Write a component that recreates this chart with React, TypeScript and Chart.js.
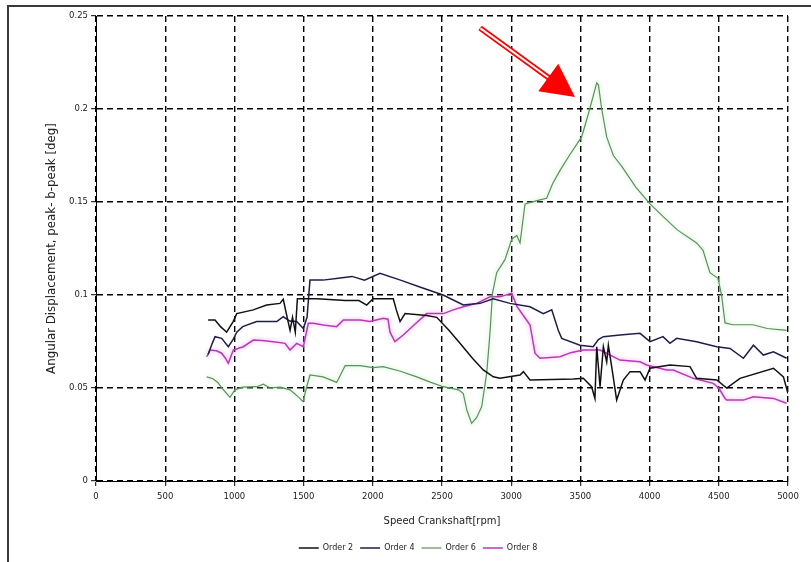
import React, { useEffect, useRef } from "react";
import { Chart, registerables } from "chart.js";

Chart.register(...registerables);

// Axis ticks
const rpmTicks = [0, 500, 1000, 1500, 2000, 2500, 3000, 3500, 4000, 4500, 5000];
const valueTicks = [0, 0.05, 0.1, 0.15, 0.2, 0.25];

// Order 2
const order2Rpm = [
  810, 860, 900, 944, 991, 1017, 1136, 1233, 1329, 1353, 1378, 1402, 1420, 1440, 1455,
  1600, 1800, 1900, 1956, 2002, 2148, 2170, 2197, 2233, 2389, 2462, 2550, 2630, 2720,
  2798, 2871, 2919, 3064, 3088, 3136, 3450, 3521, 3581, 3605, 3618, 3642, 3666, 3690,
  3702, 3726, 3762, 3810, 3859, 3931, 3967, 4003, 4147, 4292, 4340, 4485, 4557, 4653,
  4895, 4967, 5000,
];
const order2Val = [
  0.0866, 0.0866, 0.083, 0.08, 0.0857, 0.09, 0.092, 0.0946, 0.0955, 0.0977, 0.089, 0.081,
  0.088, 0.08, 0.098, 0.098, 0.097, 0.097, 0.0946, 0.098, 0.098, 0.092, 0.0857, 0.09,
  0.089, 0.088, 0.081, 0.074, 0.066, 0.0597, 0.056, 0.0552, 0.057, 0.0588, 0.0543,
  0.0548, 0.0552, 0.0507, 0.0444, 0.0722, 0.0507, 0.0722, 0.064, 0.073, 0.0615, 0.0435,
  0.0543, 0.0588, 0.0588, 0.0543, 0.0606, 0.0624, 0.0615, 0.0552, 0.0543, 0.05, 0.0552,
  0.0606, 0.056, 0.047,
];

// Order 4
const order4Rpm = [
  810, 840, 860, 908, 956, 990, 1017, 1060, 1161, 1306, 1353, 1400, 1450, 1498, 1525,
  1546, 1640, 1750, 1850, 1940, 2052, 2200, 2350, 2508, 2654, 2775, 2870, 2991, 3136,
  3232, 3293, 3340, 3365, 3497, 3592, 3630, 3666, 3786, 3931, 4003, 4097, 4147, 4196,
  4340, 4485, 4581, 4678, 4750, 4822, 4895, 4990,
];
const order4Val = [
  0.068, 0.074, 0.0776, 0.0767, 0.0722, 0.076, 0.08, 0.083, 0.0857, 0.0857, 0.0883,
  0.086, 0.0857, 0.082, 0.088, 0.108, 0.108, 0.109, 0.11, 0.108, 0.1117, 0.108, 0.104,
  0.1, 0.0946, 0.0955, 0.098, 0.0955, 0.0937, 0.09, 0.092, 0.081, 0.0767, 0.073, 0.0722,
  0.076, 0.0776, 0.0785, 0.0794, 0.0749, 0.0776, 0.074, 0.0767, 0.0749, 0.0722, 0.0713,
  0.066, 0.073, 0.0677, 0.0695, 0.066,
];

// Order 6
const order6Rpm = [
  800, 845, 880, 910, 968, 1004, 1060, 1161, 1210, 1257, 1330, 1402, 1450, 1496, 1520,
  1546, 1641, 1739, 1800, 1908, 2002, 2075, 2200, 2317, 2420, 2508, 2620, 2654, 2680,
  2714, 2750, 2787, 2823, 2847, 2865, 2895, 2955, 3004, 3040, 3064, 3100, 3200, 3256,
  3300, 3353, 3420, 3509, 3560, 3618, 3630, 3654, 3690, 3738, 3800, 3900, 4003, 4100,
  4200, 4340, 4386, 4436, 4494, 4520, 4545, 4600, 4747, 4850, 4990,
];
const order6Val = [
  0.056, 0.055, 0.053, 0.05, 0.045, 0.049, 0.0505, 0.0507, 0.052, 0.05, 0.0505, 0.049,
  0.046, 0.0427, 0.05, 0.057, 0.056, 0.053, 0.062, 0.062, 0.061, 0.0615, 0.059, 0.056,
  0.053, 0.0507, 0.049, 0.047, 0.038, 0.031, 0.034, 0.04, 0.058, 0.08, 0.101, 0.112,
  0.119, 0.13, 0.132, 0.128, 0.149, 0.151, 0.152, 0.16, 0.167, 0.175, 0.185, 0.198,
  0.214, 0.213, 0.2, 0.185, 0.175, 0.169, 0.158, 0.149, 0.142, 0.135, 0.128, 0.124,
  0.112, 0.109, 0.1, 0.085, 0.084, 0.084, 0.082, 0.081,
];

// Order 8
const order8Rpm = [
  800, 824, 870, 908, 935, 956, 992, 1064, 1137, 1200, 1281, 1366, 1402, 1450, 1498,
  1534, 1570, 1642, 1739, 1787, 1908, 1980, 2076, 2110, 2124, 2160, 2220, 2300, 2389,
  2510, 2582, 2654, 2751, 2847, 2919, 3004, 3040, 3088, 3136, 3172, 3208, 3353, 3430,
  3521, 3642, 3786, 3931, 3979, 4123, 4171, 4316, 4460, 4500, 4545, 4557, 4678, 4750,
  4895, 4990,
];
const order8Val = [
  0.0668, 0.0704, 0.07, 0.0687, 0.066, 0.0633, 0.0704, 0.0722, 0.0758, 0.0755, 0.0749,
  0.074, 0.0704, 0.074, 0.0722, 0.0848, 0.0848, 0.0839, 0.083, 0.0866, 0.0866, 0.0857,
  0.0875, 0.087, 0.08, 0.0749, 0.0785, 0.084, 0.09, 0.09, 0.092, 0.0937, 0.0955, 0.099,
  0.099, 0.101, 0.094, 0.089, 0.0839, 0.0687, 0.066, 0.0668, 0.069, 0.0704, 0.0704,
  0.065, 0.0641, 0.0624, 0.0597, 0.0597, 0.0552, 0.0525, 0.05, 0.0444, 0.0435, 0.0435,
  0.0453, 0.0444, 0.0418,
];

// Callout arrow pointing at the Order 6 resonance peak (data coordinates)
const arrowTail = { rpm: 2775, value: 0.2435 };
const arrowTip = { rpm: 3461, value: 0.2065 };

const FONT = "'DejaVu Sans', 'Liberation Sans', sans-serif";
const TEXT = "#222";

const toPoints = (xs: number[], ys: number[]) => xs.map((x, i) => ({ x, y: ys[i] }));

// Soft glow around the coloured traces
const haloPlugin = {
  id: "lineHalo",
  beforeDatasetDraw(chart: any, args: any) {
    const ds = chart.data.datasets[args.index];
    if (!ds.halo) return;
    chart.ctx.save();
    chart.ctx.shadowColor = ds.halo;
    chart.ctx.shadowBlur = 4;
  },
  afterDatasetDraw(chart: any, args: any) {
    const ds = chart.data.datasets[args.index];
    if (ds.halo) chart.ctx.restore();
  },
};

// Nudge the legend row a little to the right of the canvas centre
const legendShiftPlugin = {
  id: "legendShift",
  afterLayout(chart: any) {
    const lg = chart.legend;
    if (lg) {
      lg.left += 24;
      lg.right += 24;
    }
  },
};

const arrowPlugin = {
  id: "peakArrow",
  afterDraw(chart: any) {
    const { ctx } = chart;
    const xs = chart.scales.x;
    const ys = chart.scales.y;
    const x0 = xs.getPixelForValue(arrowTail.rpm);
    const y0 = ys.getPixelForValue(arrowTail.value);
    const x1 = xs.getPixelForValue(arrowTip.rpm);
    const y1 = ys.getPixelForValue(arrowTip.value);
    const ang = Math.atan2(y1 - y0, x1 - x0);
    const c = Math.cos(ang);
    const s = Math.sin(ang);
    const headLen = 33;
    const headHalf = 17;
    const bx = x1 - c * headLen;
    const by = y1 - s * headLen;
    ctx.save();
    ctx.lineCap = "butt";
    ctx.strokeStyle = "#ff0000";
    ctx.lineWidth = 5.5;
    ctx.beginPath();
    ctx.moveTo(x0, y0);
    ctx.lineTo(bx + c * 3, by + s * 3);
    ctx.stroke();
    ctx.strokeStyle = "#ffffff";
    ctx.lineWidth = 2;
    ctx.beginPath();
    ctx.moveTo(x0 + c * 0.5, y0 + s * 0.5);
    ctx.lineTo(bx + c * 3, by + s * 3);
    ctx.stroke();
    ctx.fillStyle = "#ff0000";
    ctx.beginPath();
    ctx.moveTo(x1, y1);
    ctx.lineTo(bx + s * headHalf, by - c * headHalf);
    ctx.lineTo(bx - s * headHalf, by + c * headHalf);
    ctx.closePath();
    ctx.fill();
    ctx.restore();
  },
};

export default function App() {
  const canvasRef = useRef<HTMLCanvasElement | null>(null);

  useEffect(() => {
    const canvas = canvasRef.current;
    if (!canvas) return;
    const gridCommon = {
      color: "#000",
      lineWidth: 1.4,
      drawTicks: true,
      tickLength: 5,
      tickColor: "#000",
      tickWidth: 1,
      tickBorderDash: [],
    };
    const chart = new Chart(canvas, {
      type: "line",
      data: {
        datasets: [
          {
            label: "Order 2",
            data: toPoints(order2Rpm, order2Val),
            borderColor: "#111111",
            backgroundColor: "#111111",
            borderWidth: 1.5,
          },
          {
            label: "Order 4",
            data: toPoints(order4Rpm, order4Val),
            borderColor: "#1e1e48",
            backgroundColor: "#1e1e48",
            borderWidth: 1.5,
          },
          {
            label: "Order 6",
            data: toPoints(order6Rpm, order6Val),
            borderColor: "#5b915b",
            backgroundColor: "#5b915b",
            borderWidth: 1.2,
            halo: "rgba(170,230,170,0.9)",
          },
          {
            label: "Order 8",
            data: toPoints(order8Rpm, order8Val),
            borderColor: "#b43cb4",
            backgroundColor: "#b43cb4",
            borderWidth: 1.5,
            halo: "rgba(245,150,245,0.95)",
          },
        ] as any,
      },
      options: {
        animation: false,
        responsive: false,
        maintainAspectRatio: false,
        elements: {
          point: { radius: 0 },
          line: { tension: 0 },
        },
        layout: { padding: { left: 0, right: 23, top: 16, bottom: 0 } },
        plugins: {
          tooltip: { enabled: false },
          legend: {
            position: "bottom",
            labels: {
              usePointStyle: true,
              pointStyle: "line",
              pointStyleWidth: 20,
              padding: 7,
              color: TEXT,
              font: { family: FONT, size: 8 },
            },
          },
        },
        scales: {
          x: {
            type: "linear",
            min: 0,
            max: 5000,
            afterFit: (s: any) => {
              s.height = 56;
            },
            afterBuildTicks: (s: any) => {
              s.ticks = rpmTicks.map((v) => ({ value: v }));
            },
            ticks: {
              padding: 6,
              color: TEXT,
              font: { family: FONT, size: 8.5 },
              callback: (v: any) => String(v),
              maxRotation: 0,
            },
            grid: gridCommon,
            border: { display: true, color: "#000", width: 1, dash: [6, 4] },
            title: {
              display: true,
              text: "Speed Crankshaft[rpm]",
              color: TEXT,
              font: { family: FONT, size: 10 },
              padding: { top: 0, bottom: 10 },
            },
          },
          y: {
            type: "linear",
            min: 0,
            max: 0.25,
            afterFit: (s: any) => {
              s.width = 96;
            },
            afterBuildTicks: (s: any) => {
              s.ticks = valueTicks.map((v) => ({ value: v }));
            },
            ticks: {
              padding: 3,
              color: TEXT,
              font: { family: FONT, size: 8.5 },
              callback: (v: any) => String(Number(Number(v).toFixed(2))),
            },
            grid: gridCommon,
            border: { display: true, color: "#000", width: 1, dash: [6, 4] },
            title: {
              display: true,
              text: "Angular Displacement, peak- b-peak [deg]",
              color: TEXT,
              font: { family: FONT, size: 11.8 },
              padding: { top: 45, bottom: 0 },
            },
          },
        },
      } as any,
      plugins: [haloPlugin, legendShiftPlugin, arrowPlugin],
    });
    return () => chart.destroy();
  }, []);

  return (
    <div
      style={{
        position: "absolute",
        left: 0,
        top: 0,
        width: 811,
        height: 562,
        overflow: "hidden",
        background: "#fff",
      }}
    >
      <canvas
        ref={canvasRef}
        width={811}
        height={562}
        style={{ position: "absolute", left: 0, top: 0, width: 811, height: 562 }}
      />
      <div
        style={{
          position: "absolute",
          left: 7,
          top: 5,
          width: 900,
          height: 700,
          border: "2px solid #3a3a3a",
          pointerEvents: "none",
        }}
      />
    </div>
  );
}
